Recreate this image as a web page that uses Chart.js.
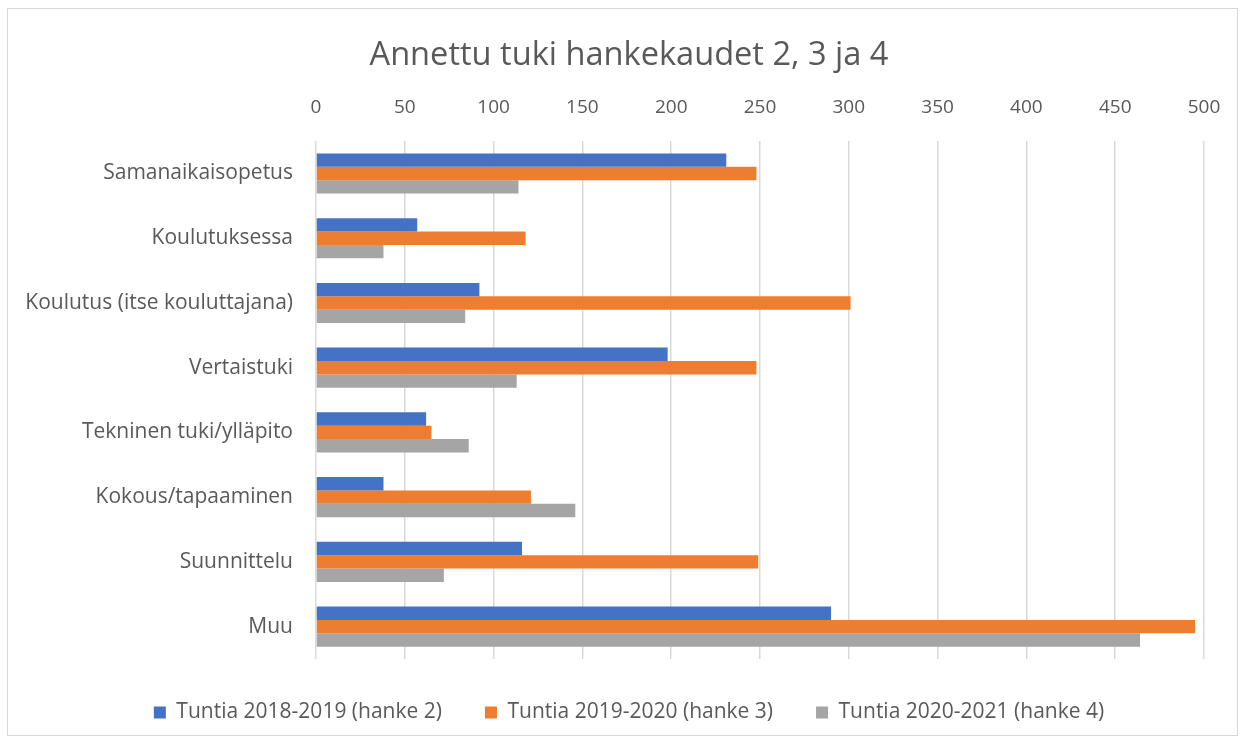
<!DOCTYPE html>
<html>
<head>
<meta charset="utf-8">
<script src="https://cdn.jsdelivr.net/npm/chart.js@4.4.1/dist/chart.umd.min.js"></script>
<style>
  html, body { margin: 0; padding: 0; background: #ffffff; overflow: hidden; }
  #wrap { position: relative; width: 1244px; height: 742px; overflow: hidden; }
  #frame { position: absolute; left: 7px; top: 8px; width: 1229px; height: 726px; border: 1px solid #d9d9d9; pointer-events: none; }
  canvas { position: absolute; left: 0; top: 0; }
</style>
</head>
<body>
<div id="wrap">
  <canvas id="c" width="1298" height="742"></canvas>
  <div id="frame"></div>
</div>
<script>
const categories = [
  "Samanaikaisopetus",
  "Koulutuksessa",
  "Koulutus (itse kouluttajana)",
  "Vertaistuki",
  "Tekninen tuki/ylläpito",
  "Kokous/tapaaminen",
  "Suunnittelu",
  "Muu"
];
const seriesNames = [
  "Tuntia 2018-2019 (hanke 2)",
  "Tuntia 2019-2020 (hanke 3)",
  "Tuntia 2020-2021 (hanke 4)"
];
const hanke2 = [231, 57, 92, 198, 62, 38, 116, 290];
const hanke3 = [248, 118, 301, 248, 65, 121, 249, 495];
const hanke4 = [114, 38, 84, 113, 86, 146, 72, 464];
const xTicks = [0, 50, 100, 150, 200, 250, 300, 350, 400, 450, 500];

const FONT = "'Open Sans', 'Liberation Sans', sans-serif";
const TEXT = "#595959";

new Chart(document.getElementById("c"), {
  type: "bar",
  data: {
    labels: categories,
    datasets: [
      { label: seriesNames[0], data: hanke2, backgroundColor: "#4472C4", borderWidth: 0 },
      { label: seriesNames[1], data: hanke3, backgroundColor: "#ED7D31", borderWidth: 0 },
      { label: seriesNames[2], data: hanke4, backgroundColor: "#A5A5A5", borderWidth: 0 }
    ]
  },
  options: {
    indexAxis: "y",
    responsive: false,
    animation: false,
    devicePixelRatio: 1,
    layout: { padding: { left: 0, right: 40, top: 0, bottom: 9 } },
    datasets: { bar: { categoryPercentage: 0.62, barPercentage: 1.0 } },
    plugins: {
      title: {
        display: true,
        text: "Annettu tuki hankekaudet 2, 3 ja 4",
        color: TEXT,
        font: { family: FONT, size: 32.6, weight: "normal" },
        padding: { top: 36, bottom: 0 }
      },
      legend: {
        position: "bottom",
        labels: {
          color: TEXT,
          font: { family: FONT, size: 21 },
          boxWidth: 12,
          boxHeight: 12,
          padding: 43
        }
      },
      tooltip: { enabled: false }
    },
    scales: {
      x: {
        position: "top",
        min: 0,
        max: 500,
        afterBuildTicks: (s) => { s.ticks = xTicks.map(v => ({ value: v })); },
        afterFit: (s) => { s.height = 66; },
        grid: { color: "#d9d9d9", lineWidth: 1.5, drawTicks: false },
        border: { display: false },
        ticks: { color: TEXT, font: { family: FONT, size: 19 }, padding: 22 }
      },
      y: {
        afterFit: (s) => { s.width = 316; },
        grid: { display: false, drawTicks: false },
        border: { display: false },
        ticks: { color: TEXT, font: { family: FONT, size: 21 }, padding: 23 }
      },
      ySpacer: {
        type: "linear",
        position: "right",
        afterFit: (s) => { s.width = 54; },
        grid: { display: false, drawTicks: false },
        border: { display: false },
        ticks: { display: false }
      }
    }
  }
});
</script>
</body>
</html>
